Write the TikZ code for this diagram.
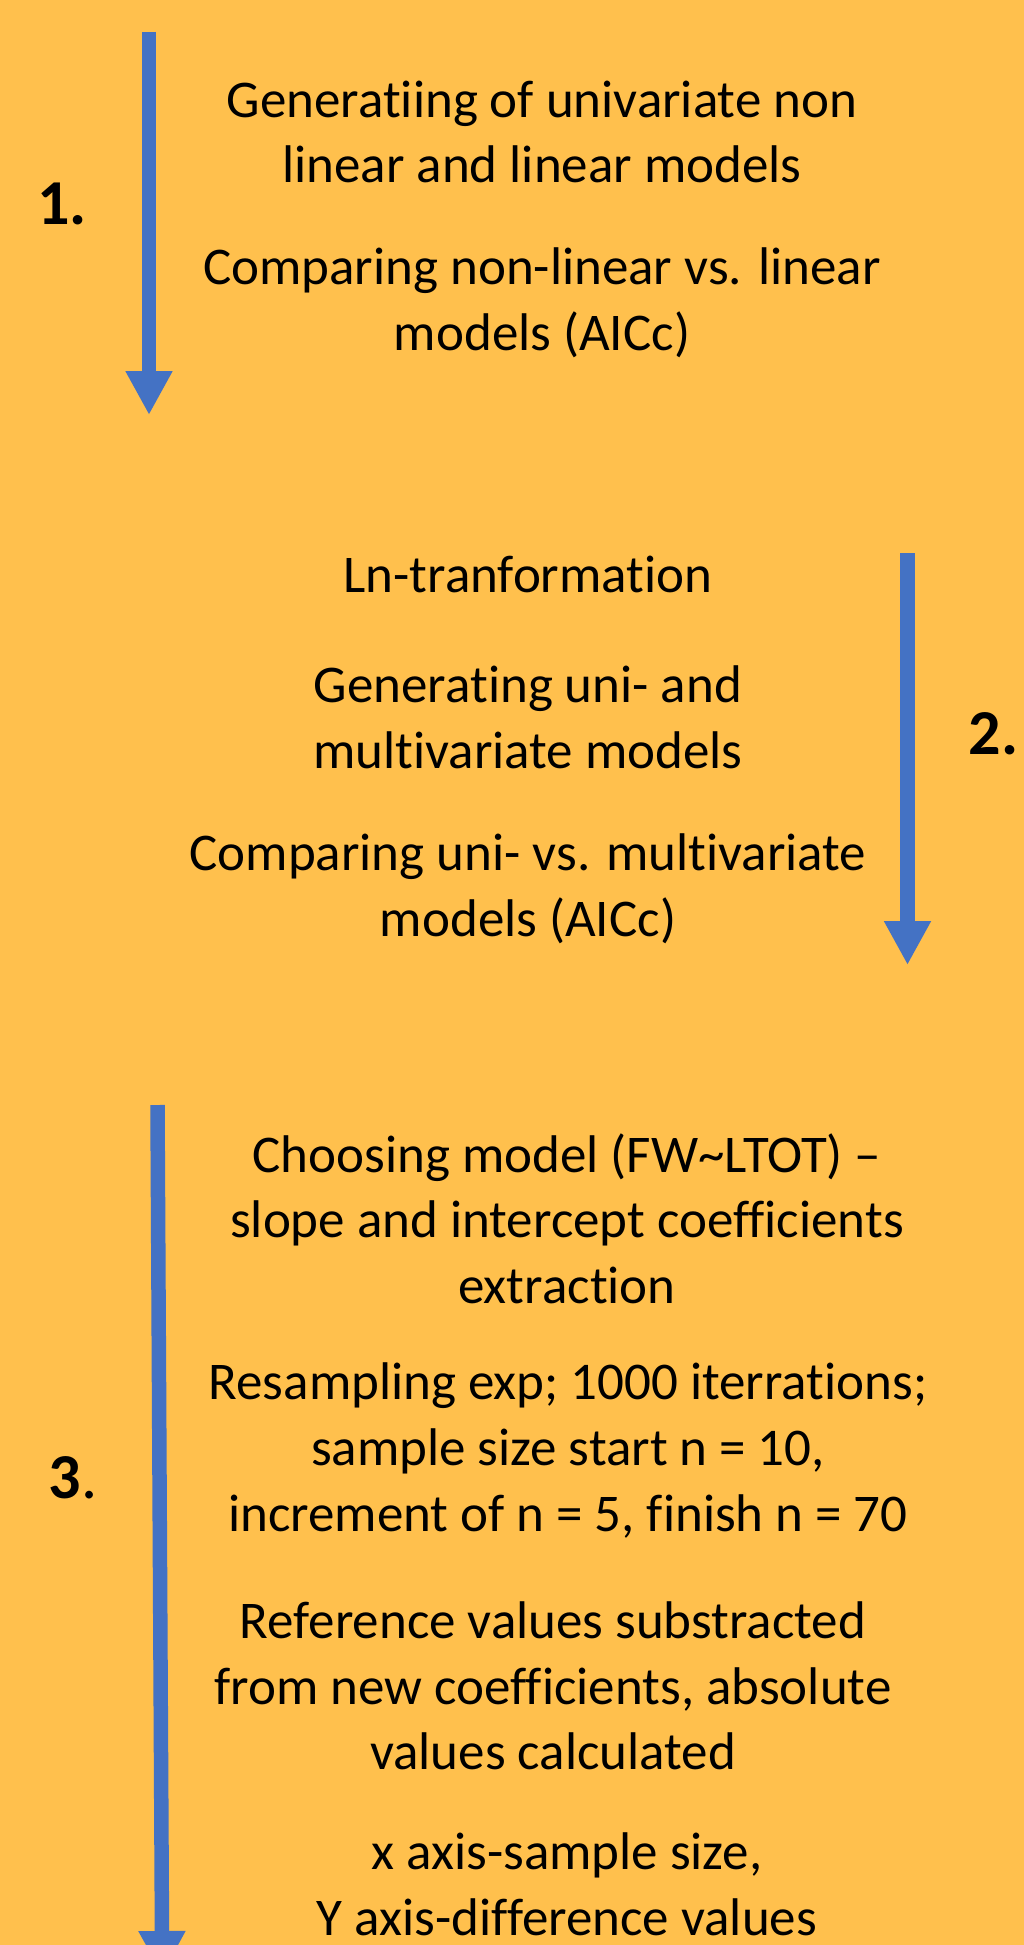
\documentclass[tikz,border=0pt]{standalone}
\usepackage{fontspec}
\setmainfont{Carlito}[Ligatures=NoCommon]
\usetikzlibrary{arrows.meta}
\definecolor{bgorange}{RGB}{255,192,77}
\definecolor{arrowblue}{RGB}{68,114,196}
\tikzset{
  steptext/.style={inner sep=0pt, align=center, text=black, font=\fontsize{53}{65.7}\selectfont},
  numlabel/.style={inner sep=0pt, text=black, font=\fontsize{64}{70}\selectfont\bfseries},
  flowarrow/.style={draw=arrowblue, line width=14.5pt, line cap=butt,
    -{Triangle[width=44pt,length=44pt,fill=arrowblue]}}
}
\begin{document}
\begin{tikzpicture}[x=1pt,y=-1pt]
\fill[bgorange] (0,0) rectangle (1024,1945);
\clip (0,0) rectangle (1024,1945);
\useasboundingbox (0,0) rectangle (1024,1945);

% arrows
\coordinate (a1s) at (149,32);
\coordinate (a1e) at (149,415);
\coordinate (a2s) at (907.5,553);
\coordinate (a2e) at (907.5,965);
\coordinate (a3s) at (157.5,1105);
\coordinate (a3e) at (162.2,1975);
\draw[flowarrow] (a1s) -- (a1e);
\draw[flowarrow] (a2s) -- (a2e);
\draw[flowarrow] (a3s) -- (a3e);

% labels
\node[numlabel] (l1) at (62,204) {1.};
\node[numlabel] (l2) at (993.5,734) {2.};
\node[numlabel] (l3) at (73,1478) {3\textmd{.}};

% block 1
\node[steptext] (p11) at (542,132) {Generatiing of univariate non\\linear and linear models};
\node[steptext] (p12) at (542,302.5) {Comparing non-linear vs. linear\\models (AICc)};

% block 2
\node[steptext] (p21) at (528,574) {Ln-tranformation};
\node[steptext] (p22) at (528,717) {Generating uni- and\\multivariate models};
\node[steptext] (p23) at (528,889) {Comparing uni- vs. multivariate\\models (AICc)};

% block 3
\node[steptext] (p31) at (567,1218.6) {Choosing model (FW\textasciitilde LTOT) –\\slope and intercept coefficients\\extraction};
\node[steptext] (p32) at (568,1450.5) {Resampling exp; 1000 iterrations;\\sample size start n = 10,\\increment of n = 5, finish n = 70};
\node[steptext] (p33) at (553,1686) {Reference values substracted\\from new coefficients, absolute\\values calculated};
\node[steptext] (p34) at (567,1884.5) {x axis-sample size,\\Y axis-difference values};
\end{tikzpicture}
\end{document}
